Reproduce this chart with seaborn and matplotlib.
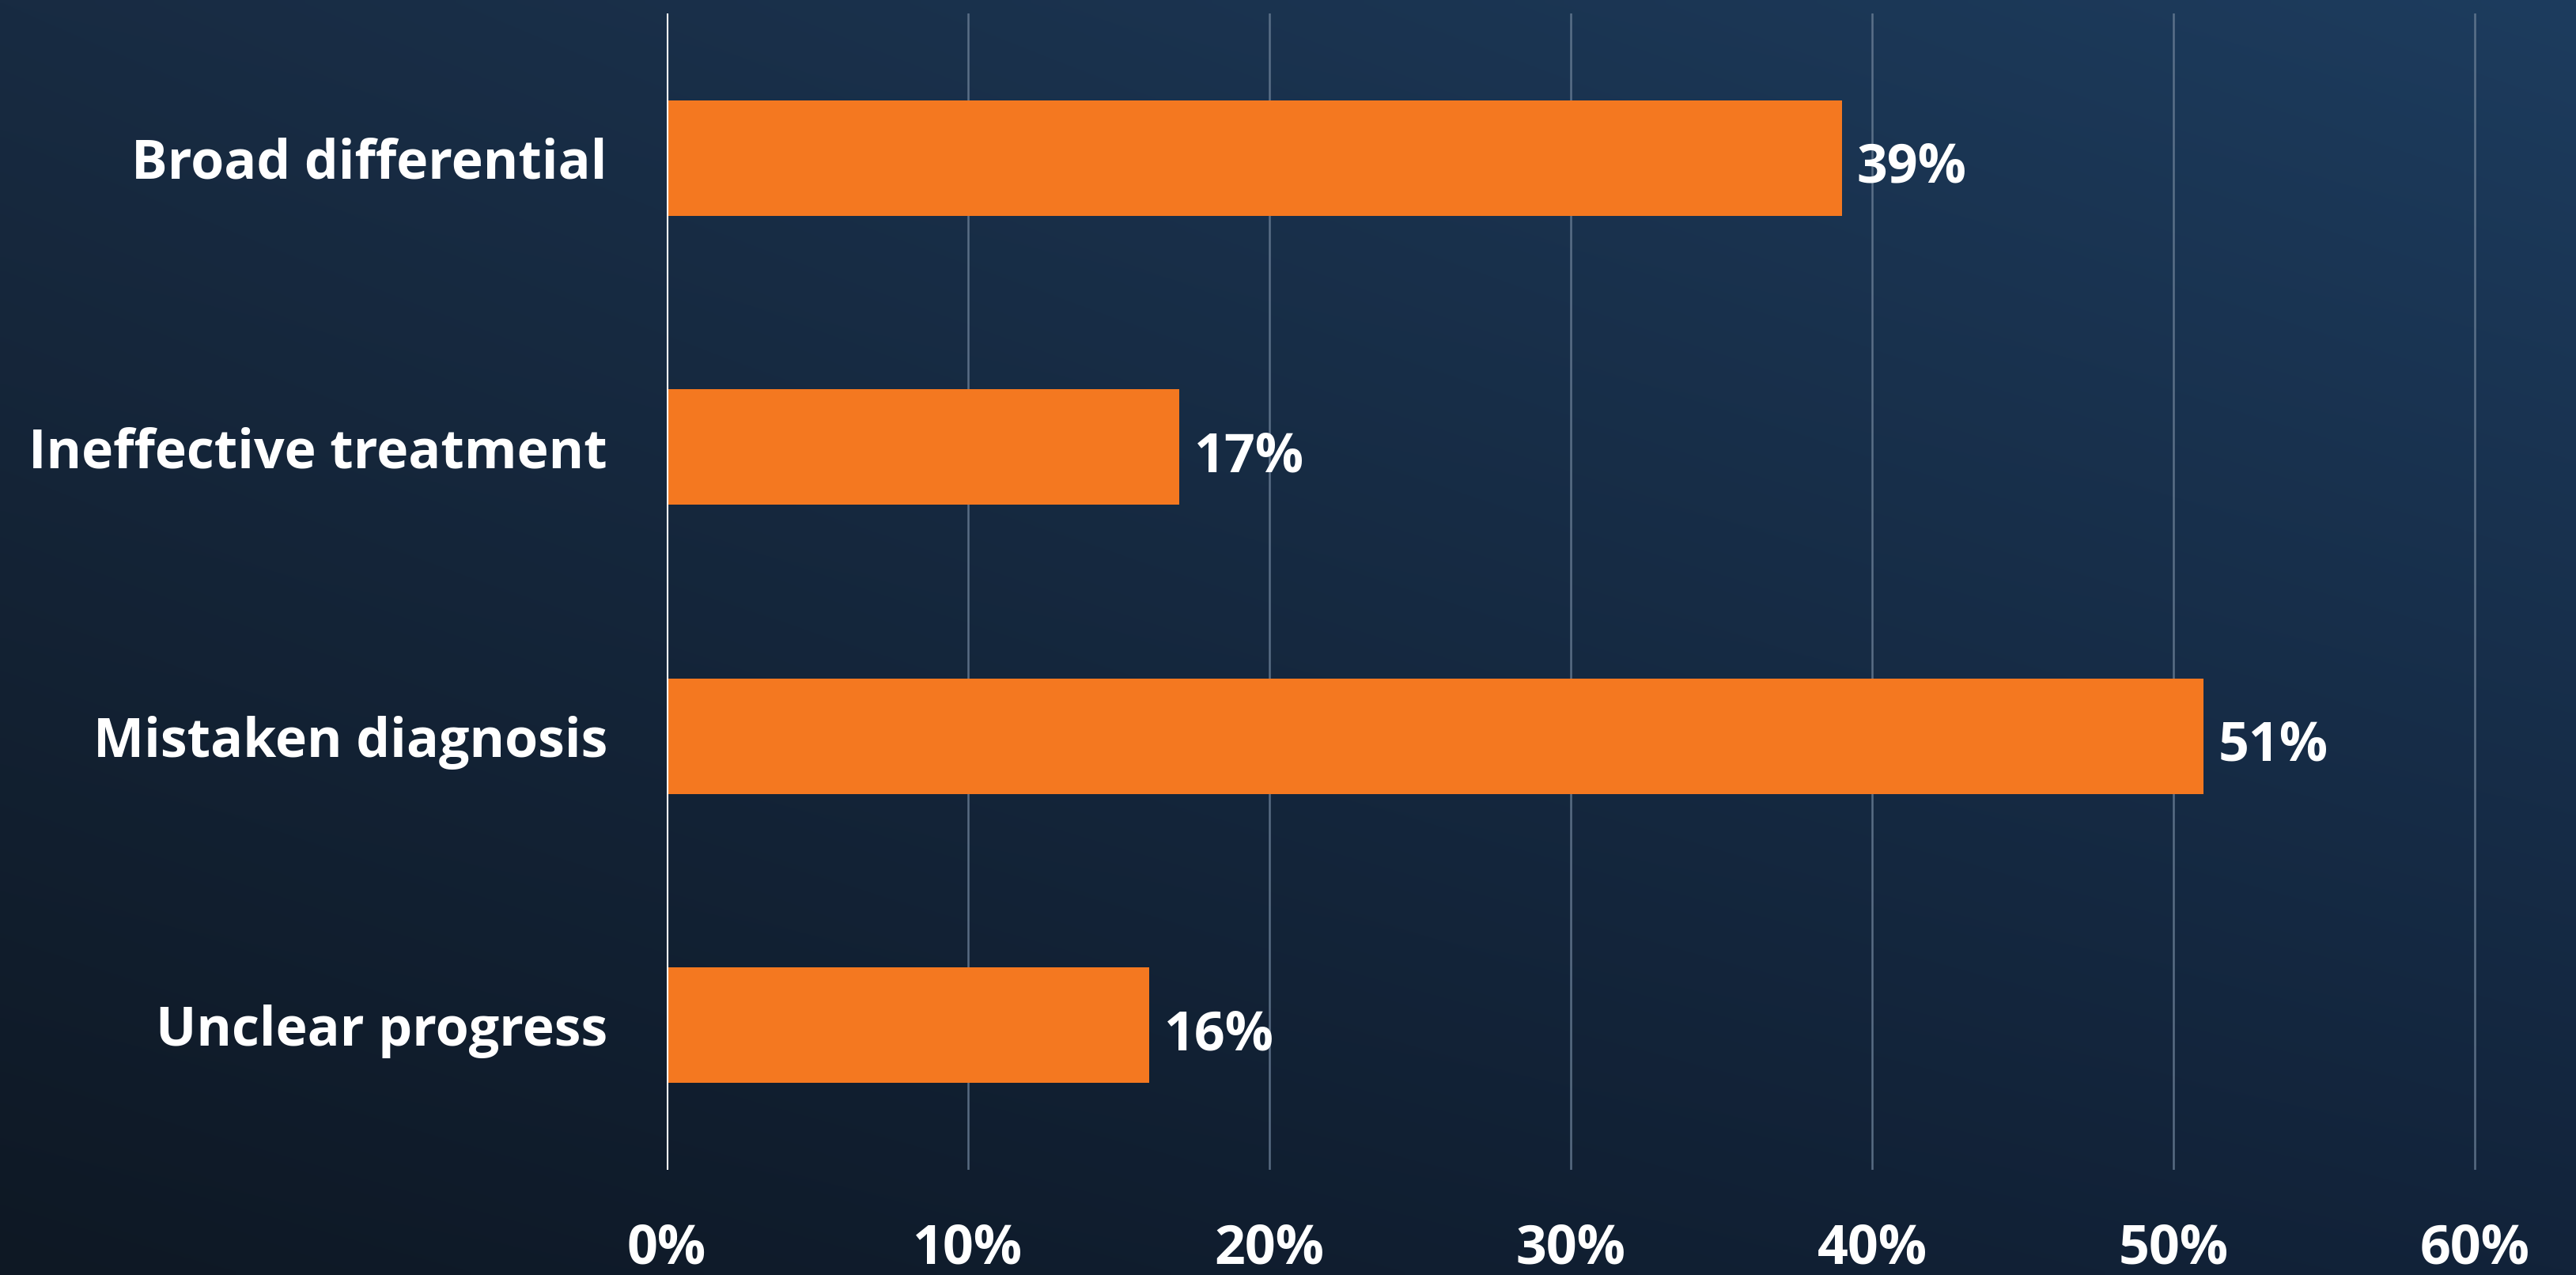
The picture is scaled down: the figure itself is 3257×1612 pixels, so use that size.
import numpy as np
import pandas as pd
import matplotlib
matplotlib.use("Agg")
import matplotlib.pyplot as plt
from matplotlib.colors import to_rgb
import seaborn as sns

categories = ["Broad differential", "Ineffective treatment", "Mistaken diagnosis", "Unclear progress"]
values = [39, 17, 51, 16]
xticks = [0, 10, 20, 30, 40, 50, 60]
xtick_labels = ["0%", "10%", "20%", "30%", "40%", "50%", "60%"]

df = pd.DataFrame({"category": categories, "value": values})

sns.set_theme(style="white")
plt.rcParams["font.family"] = ["Open Sans", "DejaVu Sans"]

W, H, DPI = 3257, 1612, 100
fig = plt.figure(figsize=(W / DPI, H / DPI), dpi=DPI)

# background gradient
bg = fig.add_axes([0, 0, 1, 1], zorder=-10)
corners = np.array([[to_rgb("#182b42"), to_rgb("#1d3c5e")],
                    [to_rgb("#0e1824"), to_rgb("#12233a")]])
ny, nx = 200, 400
yy = np.linspace(0, 1, ny)[:, None, None]
xx = np.linspace(0, 1, nx)[None, :, None]
img = (corners[0, 0] * (1 - yy) * (1 - xx) + corners[0, 1] * (1 - yy) * xx
       + corners[1, 0] * yy * (1 - xx) + corners[1, 1] * yy * xx)
bg.imshow(img, aspect="auto", extent=[0, 1, 0, 1], interpolation="bilinear")
bg.set_axis_off()

left = 843 / W
x_per10 = 381 / W
xmax = 61
ax = fig.add_axes([left, 1 - 1479 / H, x_per10 * xmax / 10, (1479 - 17) / H])
ax.set_facecolor("none")

sns.barplot(data=df, x="value", y="category", orient="h", color="#f47820",
            width=0.4, saturation=1, linewidth=0, edgecolor="none", ax=ax, zorder=3)

ax.set_xlim(0, xmax)
ax.set_ylim(3.5, -0.5)
ax.set_xticks(xticks)
ax.set_xticklabels(xtick_labels)
ax.set_xlabel("")
ax.set_ylabel("")

for x in xticks[1:]:
    ax.axvline(x, color="#6b7f96", lw=1.8, alpha=0.8, zorder=1)
ax.axvline(0, color="white", lw=3, zorder=4)

for s in ax.spines.values():
    s.set_visible(False)

ax.tick_params(axis="x", length=0, pad=48, labelsize=49, labelcolor="white")
ax.tick_params(axis="y", length=0, pad=54, labelsize=49, labelcolor="white")
for lab in ax.get_xticklabels() + ax.get_yticklabels():
    lab.set_fontweight("bold")

for i, v in enumerate(values):
    ax.annotate(f"{v}%", xy=(v, i), xytext=(19, -13), textcoords="offset pixels",
                ha="left", va="center", color="white", fontsize=49, fontweight="bold")

fig.savefig("out.png", dpi=DPI)
